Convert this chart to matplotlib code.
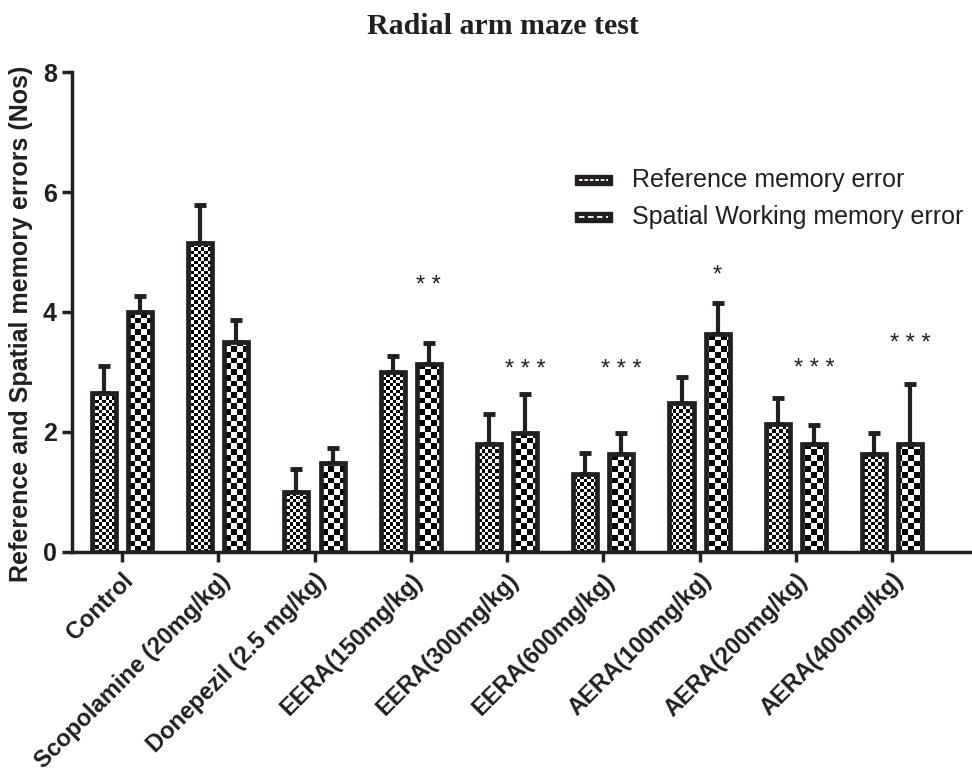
import numpy as np
import matplotlib
matplotlib.use("Agg")
import matplotlib.pyplot as plt
from matplotlib.patches import Rectangle
from matplotlib.lines import Line2D
from matplotlib.legend_handler import HandlerBase

categories = ["Control", "Scopolamine (20mg/kg)", "Donepezil (2.5 mg/kg)",
              "EERA(150mg/kg)", "EERA(300mg/kg)", "EERA(600mg/kg)",
              "AERA(100mg/kg)", "AERA(200mg/kg)", "AERA(400mg/kg)"]
ref_mean = [2.65, 5.15, 1.0, 3.0, 1.8, 1.3, 2.48, 2.13, 1.63]
ref_sem = [0.45, 0.63, 0.38, 0.27, 0.5, 0.35, 0.44, 0.44, 0.35]
spat_mean = [4.0, 3.5, 1.48, 3.13, 1.98, 1.63, 3.63, 1.8, 1.8]
spat_sem = [0.27, 0.37, 0.25, 0.35, 0.65, 0.35, 0.52, 0.32, 1.0]
sig_labels = ["", "", "", "* *", "* * *", "* * *", "*", "* * *", "* * *"]
sig_heights = [0, 0, 0, 4.43, 3.03, 3.03, 4.6, 3.05, 3.46]
series_names = ["Reference memory error", "Spatial Working memory error"]

plt.rcParams['font.family'] = ['Liberation Sans', 'DejaVu Sans']
INK = '#231f20'

fig = plt.figure(figsize=(9.72, 7.76), dpi=100)
ax = fig.add_axes([0.074, 0.2887, 0.924, 0.6185])
x = np.arange(len(categories))
w = 0.25
off = 0.1875
xlim = (-0.52, 8.81)
ylim = (0, 8)
ax.set_xlim(*xlim)
ax.set_ylim(*ylim)


def checker(nx, ny):
    ii, jj = np.meshgrid(np.arange(nx), np.arange(ny))
    return ((ii + jj) % 2).astype(float)


tex_ref = checker(272, 145)
tex_spat = checker(158, 84)

for means, sems, dx, tex in [(ref_mean, ref_sem, -off, tex_ref),
                             (spat_mean, spat_sem, off, tex_spat)]:
    bars = ax.bar(x + dx, means, width=w, facecolor='none', edgecolor=INK,
                  linewidth=3.4, zorder=3)
    for b in bars:
        im = ax.imshow(tex, cmap='gray', extent=[xlim[0], xlim[1], ylim[0], ylim[1]],
                       interpolation='nearest', aspect='auto', zorder=2, vmin=0, vmax=1)
        im.set_clip_path(b)
    ax.errorbar(x + dx, means, yerr=[np.zeros(len(means)), sems], fmt='none',
                ecolor=INK, elinewidth=3, capsize=4, capthick=3.5, zorder=1)

for xi, lab, h in zip(x, sig_labels, sig_heights):
    if lab:
        ax.text(xi + off, h, lab, ha='center', va='center', fontsize=17, color=INK)

ax.set_xlim(*xlim)
ax.set_ylim(*ylim)
for s in ['top', 'right']:
    ax.spines[s].set_visible(False)
for s in ['left', 'bottom']:
    ax.spines[s].set_linewidth(2.5)
    ax.spines[s].set_color(INK)
ax.set_yticks([0, 2, 4, 6, 8])
ax.set_xticks(x)
ax.set_xticklabels(categories, rotation=45, ha='right', rotation_mode='anchor',
                   fontsize=17, fontweight='bold')
for t in ax.get_yticklabels():
    t.set_fontsize(18)
    t.set_fontweight('bold')
ax.tick_params(axis='both', length=7, width=2.5, color=INK, labelcolor=INK)
ax.tick_params(axis='x', pad=5)
ax.tick_params(axis='y', pad=4)
ax.set_ylabel("Reference and Spatial memory errors (Nos)", fontsize=18,
              fontweight='bold', color=INK)
ax.yaxis.set_label_coords(-0.043, 0.475)
fig.text(0.5175, 0.966, "Radial arm maze test", fontsize=21.5, fontweight='bold',
         family=['Liberation Serif', 'DejaVu Serif'], color=INK,
         ha='center', va='center')


class HandlerSwatch(HandlerBase):
    def __init__(self, dash):
        super().__init__()
        self.dash = dash

    def create_artists(self, legend, orig_handle, xdescent, ydescent, width,
                       height, fontsize, trans):
        r = Rectangle((-xdescent, -ydescent + height * 0.1), width, height * 0.6,
                      facecolor=INK, edgecolor=INK, transform=trans)
        l = Line2D([-xdescent + width * 0.12, -xdescent + width * 0.88],
                   [-ydescent + height * 0.4] * 2, color='white', lw=1.3,
                   dashes=self.dash, transform=trans)
        return [r, l]


h1 = Rectangle((0, 0), 1, 1)
h2 = Rectangle((0, 0), 1, 1)
leg = ax.legend([h1, h2], series_names, loc='upper left',
                bbox_to_anchor=(0.56, 0.80), frameon=False, fontsize=18,
                borderpad=0, borderaxespad=0,
                handlelength=1.5, handletextpad=0.8, labelspacing=0.52,
                handler_map={h1: HandlerSwatch((2, 1)), h2: HandlerSwatch((3, 2))})
for t in leg.get_texts():
    t.set_color(INK)

fig.savefig("out.png", dpi=100)
